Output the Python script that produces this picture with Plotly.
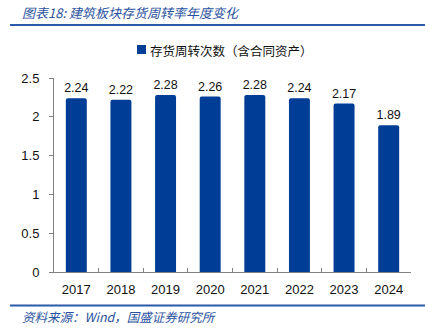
import plotly.graph_objects as go

years = ["2017", "2018", "2019", "2020", "2021", "2022", "2023", "2024"]
turnover = [2.24, 2.22, 2.28, 2.26, 2.28, 2.24, 2.17, 1.89]
labels = ["2.24", "2.22", "2.28", "2.26", "2.28", "2.24", "2.17", "1.89"]
series_name = "存货周转次数（含合同资产）"
title_text = "图表18: 建筑板块存货周转率年度变化"
source_text = "资料来源：Wind，国盛证券研究所"
y_ticks = [0, 0.5, 1, 1.5, 2, 2.5]
y_tick_text = ["0", "0.5", "1", "1.5", "2", "2.5"]

W, H = 425, 336
L, R, T, B = 54, 14, 78, 64
PH = H - T - B

def py(ypx):
    return (H - B - ypx) / PH

def px(xpx):
    return (xpx - L) / (W - L - R)

BLUE = "#003d96"
TXT_BLUE = "#2b52a0"
NUM_FONT = "Liberation Sans, Arial, sans-serif"
CJK_FONT = "Noto Sans CJK SC"

fig = go.Figure()
fig.add_trace(go.Bar(
    x=years, y=turnover, name=series_name,
    marker=dict(color=BLUE, line=dict(width=0)),
    width=0.47,
    text=labels, textposition="outside", cliponaxis=False,
    constraintext="none",
    textfont=dict(family=NUM_FONT, size=12.5, color="#111111"),
    showlegend=False,
))

fig.update_layout(
    width=W, height=H,
    margin=dict(l=L, r=R, t=T, b=B, pad=0),
    paper_bgcolor="white", plot_bgcolor="white",
    barcornerradius=2,
    xaxis=dict(
        showline=True, linecolor="#808080", linewidth=1,
        ticks="inside", tickson="boundaries", ticklen=4, tickcolor="#808080",
        tickfont=dict(family=NUM_FONT, size=13, color="#111111"),
        showgrid=False, zeroline=False, ticklabelstandoff=5,
    ),
    yaxis=dict(
        range=[0, 2.5], tickvals=y_ticks, ticktext=y_tick_text,
        showline=True, linecolor="#808080", linewidth=1,
        ticks="outside", ticklen=4, tickcolor="#808080",
        tickfont=dict(family=NUM_FONT, size=13, color="#111111"),
        showgrid=False, zeroline=False, ticklabelstandoff=7,
    ),
    annotations=[
        dict(text=title_text, xref="paper", yref="paper", x=px(20), y=py(12),
             xanchor="left", yanchor="middle", showarrow=False,
             font=dict(family=CJK_FONT, size=13, color=TXT_BLUE, style="italic")),
        dict(text=series_name, xref="paper", yref="paper", x=px(148), y=py(50),
             xanchor="left", yanchor="middle", showarrow=False,
             font=dict(family=CJK_FONT, size=12.5, color="#111111")),
        dict(text=source_text, xref="paper", yref="paper", x=px(20), y=py(316),
             xanchor="left", yanchor="middle", showarrow=False,
             font=dict(family=CJK_FONT, size=12.5, color=TXT_BLUE, style="italic")),
    ],
    shapes=[
        dict(type="rect", xref="paper", yref="paper", x0=px(137), x1=px(146),
             y0=py(54), y1=py(45), fillcolor=BLUE, line=dict(width=0)),
        dict(type="line", xref="paper", yref="paper", x0=px(10), x1=px(425),
             y0=py(25), y1=py(25), line=dict(color="#2b5aa8", width=2)),
        dict(type="line", xref="paper", yref="paper", x0=px(10), x1=px(425),
             y0=py(305.5), y1=py(305.5), line=dict(color="#2b5aa8", width=2)),
    ],
)

fig.write_html("out.html")
